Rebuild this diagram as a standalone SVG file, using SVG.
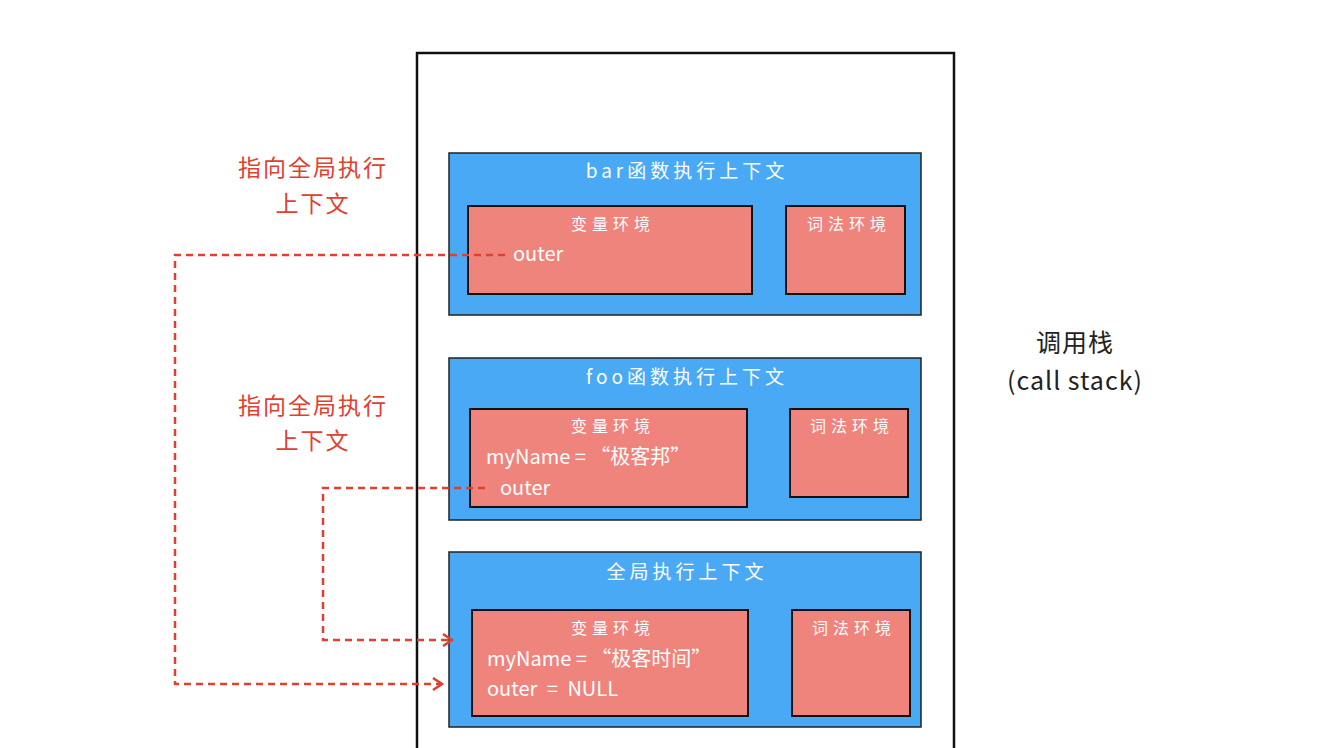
<svg xmlns="http://www.w3.org/2000/svg" width="1342" height="748" viewBox="0 0 1342 748">
<style>
.ctx{fill:#4aa9f4;stroke:#222;stroke-width:1.5}
.env{fill:#ef847c;stroke:#111;stroke-width:2}
.t{font-family:"Noto Sans CJK SC","Noto Sans",sans-serif;fill:#fff}
.title{font-size:19px;letter-spacing:4px}
.sub{font-size:16px;letter-spacing:5px}
.code{font-size:20px}
.red{font-family:"Noto Sans CJK SC",sans-serif;fill:#e0402f;font-size:23px;letter-spacing:2px}
.blk{font-family:"Noto Sans CJK SC","Noto Sans",sans-serif;fill:#222;font-size:25px;letter-spacing:1px}
.dash{fill:none;stroke:#e0402f;stroke-width:2.5;stroke-dasharray:7 5}
</style>
<defs>
<marker id="arr" markerWidth="14" markerHeight="14" refX="11" refY="7" orient="auto" markerUnits="userSpaceOnUse">
<path d="M2,1 L11,7 L2,13" fill="none" stroke="#e0402f" stroke-width="2.5"/>
</marker>
</defs>
<rect width="1342" height="748" fill="#fff"/>
<g id="stack">
<path d="M417,760 L417,53 L954,53 L954,760" fill="none" stroke="#111" stroke-width="2.5"/>
</g>
<g id="bar">
<rect class="ctx" x="449" y="153" width="472" height="162"/>
<text class="t title" x="687" y="178" text-anchor="middle">bar函数执行上下文</text>
<rect class="env" x="468" y="206" width="284" height="88"/>
<text class="t sub" x="613" y="230" text-anchor="middle">变量环境</text>
<text class="t code" x="513" y="261">outer</text>
<rect class="env" x="786" y="206" width="119" height="88"/>
<text class="t sub" x="849" y="230" text-anchor="middle">词法环境</text>
</g>
<g id="foo">
<rect class="ctx" x="449" y="358" width="472" height="162"/>
<text class="t title" x="687" y="384" text-anchor="middle">foo函数执行上下文</text>
<rect class="env" x="470" y="409" width="277" height="98"/>
<text class="t sub" x="613" y="432" text-anchor="middle">变量环境</text>
<text class="t code" x="486" y="464">myName = “极客邦”</text>
<text class="t code" x="500" y="495">outer</text>
<rect class="env" x="790" y="409" width="118" height="88"/>
<text class="t sub" x="852" y="432" text-anchor="middle">词法环境</text>
</g>
<g id="global">
<rect class="ctx" x="449" y="552" width="472" height="175"/>
<text class="t title" x="687" y="579" text-anchor="middle">全局执行上下文</text>
<rect class="env" x="472" y="610" width="276" height="106"/>
<text class="t sub" x="613" y="634" text-anchor="middle">变量环境</text>
<text class="t code" x="487" y="666">myName = “极客时间”</text>
<text class="t code" x="487" y="696" word-spacing="5">outer = NULL</text>
<rect class="env" x="792" y="610" width="118" height="106"/>
<text class="t sub" x="854" y="634" text-anchor="middle">词法环境</text>
</g>
<g id="label-stack">
<text class="blk" x="1075" y="352" text-anchor="middle">调用栈</text>
<text class="blk" x="1075" y="390" text-anchor="middle">(call stack)</text>
</g>
<g id="label-bar">
<text class="red" x="313" y="176" text-anchor="middle">指向全局执行</text>
<text class="red" x="313" y="212" text-anchor="middle">上下文</text>
</g>
<g id="label-foo">
<text class="red" x="313" y="414" text-anchor="middle">指向全局执行</text>
<text class="red" x="313" y="449" text-anchor="middle">上下文</text>
</g>
<g id="connectors">
<path class="dash" d="M505,255 L175,255 L175,684 L442,684" marker-end="url(#arr)"/>
<path class="dash" d="M485,488 L323,488 L323,640 L452,640" marker-end="url(#arr)"/>
</g>
</svg>
